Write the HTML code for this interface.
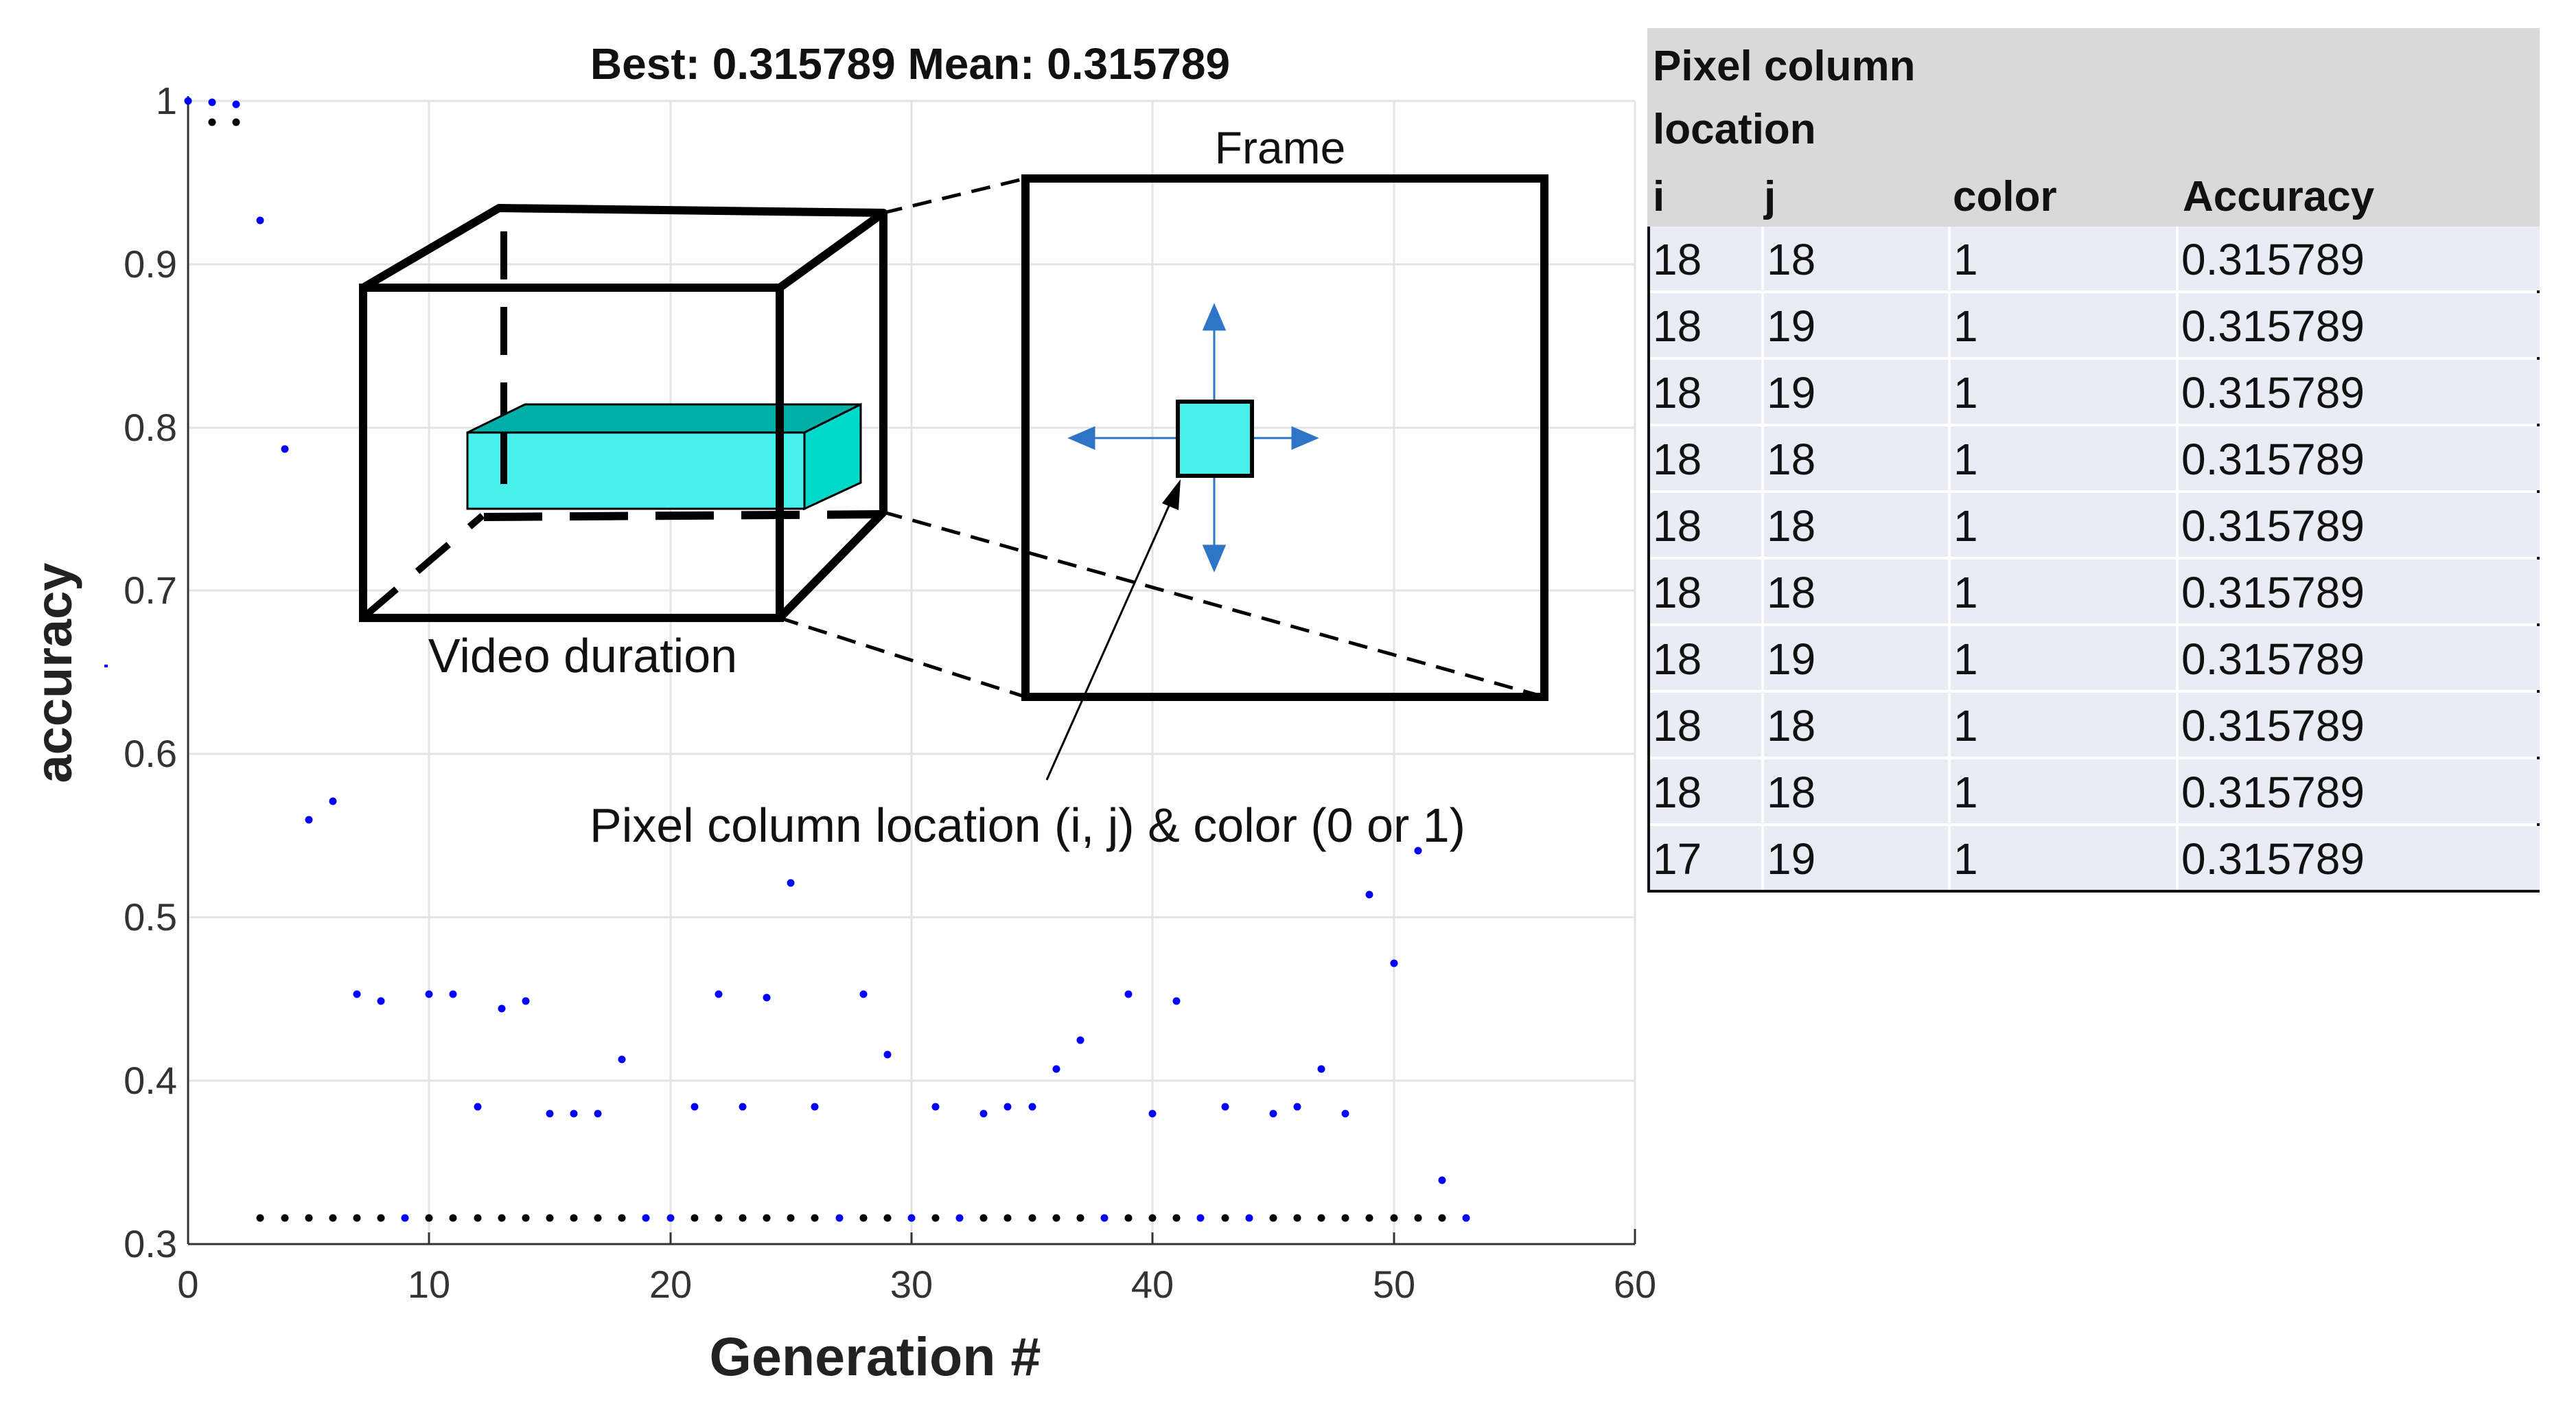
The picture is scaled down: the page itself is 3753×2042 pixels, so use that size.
<!DOCTYPE html>
<html><head><meta charset="utf-8"><style>
body{margin:0;width:3753px;height:2042px;background:#fff;overflow:hidden;position:relative;font-family:"Liberation Sans",sans-serif}
svg{position:absolute;left:0;top:0}
#tbl{position:absolute;left:2400px;top:41px;width:1300px}
.hd{background:#d9d9d9;height:289px;position:relative;font-weight:bold;font-size:62px;color:#111}
.hd span{position:absolute}
.body{border:4px solid #111;border-top:none;background:#fff}
.row{height:93px;margin-bottom:4px;position:relative;font-size:64px;color:#111}
.row:last-child{margin-bottom:0}
.row div{position:absolute;top:0;height:93px;background:#e9ecf5;line-height:96px;padding-left:4px;box-sizing:border-box}
</style></head><body>
<svg width="3753" height="2042" viewBox="0 0 3753 2042">
<g stroke="#e3e3e3" stroke-width="3">
<line x1="625" y1="147" x2="625" y2="1812"/><line x1="977" y1="147" x2="977" y2="1812"/><line x1="1328" y1="147" x2="1328" y2="1812"/><line x1="1679" y1="147" x2="1679" y2="1812"/><line x1="2031" y1="147" x2="2031" y2="1812"/><line x1="2382" y1="147" x2="2382" y2="1812"/>
<line x1="274" y1="147" x2="2382" y2="147"/><line x1="274" y1="385" x2="2382" y2="385"/><line x1="274" y1="623" x2="2382" y2="623"/><line x1="274" y1="860" x2="2382" y2="860"/><line x1="274" y1="1098" x2="2382" y2="1098"/><line x1="274" y1="1336" x2="2382" y2="1336"/><line x1="274" y1="1574" x2="2382" y2="1574"/>
</g>
<g stroke="#333" stroke-width="3"><line x1="274" y1="140" x2="274" y2="1812"/><line x1="274" y1="1812" x2="2382" y2="1812"/>
<line x1="625" y1="1812" x2="625" y2="1795"/><line x1="977" y1="1812" x2="977" y2="1795"/><line x1="1328" y1="1812" x2="1328" y2="1795"/><line x1="1679" y1="1812" x2="1679" y2="1795"/><line x1="2031" y1="1812" x2="2031" y2="1795"/><line x1="2382" y1="1812" x2="2382" y2="1790"/></g>
<g font-size="56" fill="#333" text-anchor="end">
<text x="258" y="166">1</text><text x="258" y="404">0.9</text><text x="258" y="642">0.8</text><text x="258" y="879">0.7</text><text x="258" y="1117">0.6</text><text x="258" y="1355">0.5</text><text x="258" y="1593">0.4</text><text x="258" y="1831">0.3</text></g>
<g font-size="56" fill="#333" text-anchor="middle">
<text x="274" y="1890">0</text><text x="625" y="1890">10</text><text x="977" y="1890">20</text><text x="1328" y="1890">30</text><text x="1679" y="1890">40</text><text x="2031" y="1890">50</text><text x="2382" y="1890">60</text></g>
<text x="1326" y="115" font-size="64" font-weight="bold" text-anchor="middle" fill="#111">Best: 0.315789 Mean: 0.315789</text>
<text x="1275" y="2003" font-size="79" font-weight="bold" text-anchor="middle" fill="#222">Generation #</text>
<text transform="translate(104,980) rotate(-90)" font-size="74" font-weight="bold" text-anchor="middle" fill="#222">accuracy</text>
<rect x="152" y="968" width="5" height="4" fill="#0000ff"/>
<g fill="#000">
<circle cx="309" cy="178" r="5.5"/><circle cx="344" cy="178" r="5.5"/>
<circle cx="379" cy="1774" r="5.5"/><circle cx="415" cy="1774" r="5.5"/><circle cx="450" cy="1774" r="5.5"/><circle cx="485" cy="1774" r="5.5"/><circle cx="520" cy="1774" r="5.5"/><circle cx="555" cy="1774" r="5.5"/><circle cx="625" cy="1774" r="5.5"/><circle cx="660" cy="1774" r="5.5"/><circle cx="696" cy="1774" r="5.5"/><circle cx="731" cy="1774" r="5.5"/><circle cx="766" cy="1774" r="5.5"/><circle cx="801" cy="1774" r="5.5"/><circle cx="836" cy="1774" r="5.5"/><circle cx="871" cy="1774" r="5.5"/><circle cx="906" cy="1774" r="5.5"/><circle cx="1012" cy="1774" r="5.5"/><circle cx="1047" cy="1774" r="5.5"/><circle cx="1082" cy="1774" r="5.5"/><circle cx="1117" cy="1774" r="5.5"/><circle cx="1152" cy="1774" r="5.5"/><circle cx="1187" cy="1774" r="5.5"/><circle cx="1258" cy="1774" r="5.5"/><circle cx="1293" cy="1774" r="5.5"/><circle cx="1363" cy="1774" r="5.5"/><circle cx="1433" cy="1774" r="5.5"/><circle cx="1468" cy="1774" r="5.5"/><circle cx="1504" cy="1774" r="5.5"/><circle cx="1539" cy="1774" r="5.5"/><circle cx="1574" cy="1774" r="5.5"/><circle cx="1644" cy="1774" r="5.5"/><circle cx="1679" cy="1774" r="5.5"/><circle cx="1714" cy="1774" r="5.5"/><circle cx="1785" cy="1774" r="5.5"/><circle cx="1855" cy="1774" r="5.5"/><circle cx="1890" cy="1774" r="5.5"/><circle cx="1925" cy="1774" r="5.5"/><circle cx="1960" cy="1774" r="5.5"/><circle cx="1995" cy="1774" r="5.5"/><circle cx="2031" cy="1774" r="5.5"/><circle cx="2066" cy="1774" r="5.5"/><circle cx="2101" cy="1774" r="5.5"/>
</g>
<g fill="#0000ff">
<circle cx="274" cy="147" r="5.5"/><circle cx="309" cy="149" r="5.5"/><circle cx="344" cy="152" r="5.5"/><circle cx="379" cy="321" r="5.5"/><circle cx="415" cy="654" r="5.5"/><circle cx="450" cy="1194" r="5.5"/><circle cx="485" cy="1167" r="5.5"/><circle cx="520" cy="1448" r="5.5"/><circle cx="555" cy="1458" r="5.5"/><circle cx="590" cy="1774" r="5.5"/><circle cx="625" cy="1448" r="5.5"/><circle cx="660" cy="1448" r="5.5"/><circle cx="696" cy="1612" r="5.5"/><circle cx="731" cy="1469" r="5.5"/><circle cx="766" cy="1458" r="5.5"/><circle cx="801" cy="1622" r="5.5"/><circle cx="836" cy="1622" r="5.5"/><circle cx="871" cy="1622" r="5.5"/><circle cx="906" cy="1543" r="5.5"/><circle cx="941" cy="1774" r="5.5"/><circle cx="977" cy="1774" r="5.5"/><circle cx="1012" cy="1612" r="5.5"/><circle cx="1047" cy="1448" r="5.5"/><circle cx="1082" cy="1612" r="5.5"/><circle cx="1117" cy="1453" r="5.5"/><circle cx="1152" cy="1286" r="5.5"/><circle cx="1187" cy="1612" r="5.5"/><circle cx="1223" cy="1774" r="5.5"/><circle cx="1258" cy="1448" r="5.5"/><circle cx="1293" cy="1536" r="5.5"/><circle cx="1328" cy="1774" r="5.5"/><circle cx="1363" cy="1612" r="5.5"/><circle cx="1398" cy="1774" r="5.5"/><circle cx="1433" cy="1622" r="5.5"/><circle cx="1468" cy="1612" r="5.5"/><circle cx="1504" cy="1612" r="5.5"/><circle cx="1539" cy="1557" r="5.5"/><circle cx="1574" cy="1515" r="5.5"/><circle cx="1609" cy="1774" r="5.5"/><circle cx="1644" cy="1448" r="5.5"/><circle cx="1679" cy="1622" r="5.5"/><circle cx="1714" cy="1458" r="5.5"/><circle cx="1749" cy="1774" r="5.5"/><circle cx="1785" cy="1612" r="5.5"/><circle cx="1820" cy="1774" r="5.5"/><circle cx="1855" cy="1622" r="5.5"/><circle cx="1890" cy="1612" r="5.5"/><circle cx="1925" cy="1557" r="5.5"/><circle cx="1960" cy="1622" r="5.5"/><circle cx="1995" cy="1303" r="5.5"/><circle cx="2031" cy="1403" r="5.5"/><circle cx="2066" cy="1239" r="5.5"/><circle cx="2101" cy="1719" r="5.5"/><circle cx="2136" cy="1774" r="5.5"/>
</g>
<g fill="none" stroke="#000">
<line x1="734" y1="337" x2="734" y2="705" stroke-width="10" stroke-dasharray="70,40"/>
<path d="M532 897 L703 751" stroke-width="10" stroke-dasharray="60,40"/>
<polygon points="681,630 765,589 1254,589 1172,630" fill="#00b0a8" stroke="#000" stroke-width="3"/>
<polygon points="1172,630 1254,589 1254,703 1172,741" fill="#00d8cc" stroke="#000" stroke-width="3"/>
<rect x="681" y="630" width="491" height="111" fill="#48f0ec" stroke="#000" stroke-width="3"/>
<line x1="734" y1="630" x2="734" y2="705" stroke-width="10"/>
<path d="M705 753 L1287 749" stroke-width="12" stroke-dasharray="85,40"/>
<rect x="529" y="419" width="607" height="481" stroke-width="12"/>
<path d="M529 419 L727 303 L1287 310 L1287 746 L1136 900 M1136 419 L1287 310" stroke-width="12" stroke-linejoin="round"/>
<g stroke-width="5" stroke-dasharray="28,16"><line x1="1287" y1="310" x2="1494" y2="260"/><line x1="1287" y1="746" x2="2250" y2="1015"/><line x1="1136" y1="900" x2="1494" y2="1015"/></g>
<rect x="1494" y="260" width="756" height="755" stroke-width="12"/>
</g>
<g stroke="#2e75c6" stroke-width="3" fill="#2e75c6">
<line x1="1769" y1="470" x2="1769" y2="805"/><line x1="1585" y1="638" x2="1893" y2="638"/>
<polygon points="1769,445 1754,480 1784,480"/><polygon points="1769,830 1754,795 1784,795"/>
<polygon points="1559,638 1594,623 1594,653"/><polygon points="1918,638 1883,623 1883,653"/>
</g>
<rect x="1716" y="585" width="108" height="108" fill="#48f0ec" stroke="#000" stroke-width="6"/>
<line x1="1525" y1="1136" x2="1706" y2="730" stroke="#000" stroke-width="3"/>
<polygon points="1720,698 1693,733 1717,743" fill="#000"/>
<text x="1865" y="238" font-size="66" text-anchor="middle" fill="#111">Frame</text>
<text x="849" y="979" font-size="70" text-anchor="middle" fill="#111">Video duration</text>
<text x="1497" y="1226" font-size="70" text-anchor="middle" fill="#111">Pixel column location (i, j) &amp; color (0 or 1)</text>
</svg>
<div id="tbl">
<div class="hd"><span style="left:8px;top:20px">Pixel column</span><span style="left:8px;top:112px">location</span><span style="left:8px;top:210px">i</span><span style="left:170px;top:210px">j</span><span style="left:445px;top:210px">color</span><span style="left:780px;top:210px">Accuracy</span></div>
<div class="body">
<div class="row"><div style="left:0;width:162px">18</div><div style="left:166px;width:268px">18</div><div style="left:438px;width:328px">1</div><div style="left:770px;width:526px">0.315789</div></div>
<div class="row"><div style="left:0;width:162px">18</div><div style="left:166px;width:268px">19</div><div style="left:438px;width:328px">1</div><div style="left:770px;width:526px">0.315789</div></div>
<div class="row"><div style="left:0;width:162px">18</div><div style="left:166px;width:268px">19</div><div style="left:438px;width:328px">1</div><div style="left:770px;width:526px">0.315789</div></div>
<div class="row"><div style="left:0;width:162px">18</div><div style="left:166px;width:268px">18</div><div style="left:438px;width:328px">1</div><div style="left:770px;width:526px">0.315789</div></div>
<div class="row"><div style="left:0;width:162px">18</div><div style="left:166px;width:268px">18</div><div style="left:438px;width:328px">1</div><div style="left:770px;width:526px">0.315789</div></div>
<div class="row"><div style="left:0;width:162px">18</div><div style="left:166px;width:268px">18</div><div style="left:438px;width:328px">1</div><div style="left:770px;width:526px">0.315789</div></div>
<div class="row"><div style="left:0;width:162px">18</div><div style="left:166px;width:268px">19</div><div style="left:438px;width:328px">1</div><div style="left:770px;width:526px">0.315789</div></div>
<div class="row"><div style="left:0;width:162px">18</div><div style="left:166px;width:268px">18</div><div style="left:438px;width:328px">1</div><div style="left:770px;width:526px">0.315789</div></div>
<div class="row"><div style="left:0;width:162px">18</div><div style="left:166px;width:268px">18</div><div style="left:438px;width:328px">1</div><div style="left:770px;width:526px">0.315789</div></div>
<div class="row"><div style="left:0;width:162px">17</div><div style="left:166px;width:268px">19</div><div style="left:438px;width:328px">1</div><div style="left:770px;width:526px">0.315789</div></div>
</div></div>
</body></html>
